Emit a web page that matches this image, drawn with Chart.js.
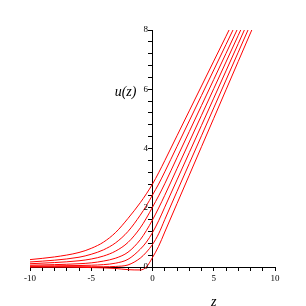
<!DOCTYPE html>
<html>
<head>
<meta charset="utf-8">
<script src="https://cdn.jsdelivr.net/npm/chart.js@4"></script>
<style>html,body{margin:0;padding:0;background:#fff}</style>
</head>
<body>
<canvas id="chart" width="306" height="306"></canvas>
<script>
// z values shared by all curves
const zValues = [-10, -8, -6, -5, -4, -3, -2, -1, -0.5, 0, 0.5, 1, 2, 3, 4, 5, 6, 7, 8, 9]

// u(z) for each curve (top curve first)
const curve1 = [0.25, 0.34, 0.49, 0.63, 0.84, 1.17, 1.64, 2.17, 2.47, 2.8, 3.18, 3.59, 4.43, 5.27, 6.11, 6.95, 7.79, 8.63]
const curve2 = [0.17, 0.23, 0.33, 0.43, 0.58, 0.82, 1.2, 1.75, 2.07, 2.43, 2.8, 3.21, 4.07, 4.93, 5.79, 6.65, 7.51, 8.37]
const curve3 = [0.11, 0.15, 0.21, 0.27, 0.37, 0.54, 0.83, 1.32, 1.65, 2.02, 2.4, 2.81, 3.69, 4.57, 5.45, 6.33, 7.21, 8.09]
const curve4 = [0.06, 0.08, 0.11, 0.14, 0.2, 0.3, 0.5, 0.92, 1.23, 1.59, 1.99, 2.42, 3.32, 4.22, 5.12, 6.02, 6.92, 7.82, 8.72]
const curve5 = [0.03, 0.04, 0.05, 0.06, 0.08, 0.13, 0.26, 0.6, 0.84, 1.16, 1.56, 2.02, 2.94, 3.86, 4.78, 5.7, 6.62, 7.54, 8.46]
const curve6 = [0.01, 0.01, 0.01, 0.01, 0.01, 0.02, 0.07, 0.3, 0.5, 0.76, 1.12, 1.6, 2.55, 3.49, 4.43, 5.37, 6.31, 7.25, 8.19]
const curve7 = [0, 0, -0.01, -0.02, -0.03, -0.05, -0.09, -0.1, 0, 0.32, 0.7, 1.18, 2.14, 3.1, 4.06, 5.02, 5.98, 6.94, 7.9, 8.86]

const curves = [curve1, curve2, curve3, curve4, curve5, curve6, curve7]

const xTickLabels = [-10, -5, 0, 5, 10]
const yTickLabels = [0, 2, 4, 6, 8]

const serif = '"Liberation Serif", "DejaVu Serif", serif'

//y tick labels sit just left of the ticks, plus the axis titles u(z) and z
let axisText = {
    id: 'axisText',
    afterDraw(chart) {
        const ctx = chart.ctx
        const x = chart.scales.x
        const y = chart.scales.y
        const axisX = x.getPixelForValue(0)
        ctx.save()
        ctx.fillStyle = '#000'
        ctx.font = '9px ' + serif
        ctx.textAlign = 'right'
        ctx.textBaseline = 'middle'
        yTickLabels.forEach(v => ctx.fillText(String(v), axisX - 4.5, y.getPixelForValue(v)))
        ctx.font = 'italic 14px ' + serif
        ctx.textAlign = 'center'
        ctx.fillText('u(z)', x.getPixelForValue(-2.2), y.getPixelForValue(5.88))
        ctx.fillText('z', x.getPixelForValue(5), chart.chartArea.bottom + 35)
        ctx.restore()
    }
}

let datasets = curves.map(u => ({
    data: u.map((v, i) => ({x: zValues[i], y: v})),
    borderColor: '#ff0000',
    borderWidth: 1,
    pointRadius: 0,
    fill: false,
    showLine: true,
    cubicInterpolationMode: 'monotone',
    clip: {left: 0, top: 0, right: 0, bottom: 6}
}))

let chart = new Chart(document.getElementById('chart').getContext('2d'), {
    type: 'scatter',
    data: {datasets: datasets},
    options: {
        responsive: false,
        animation: false,
        events: [],
        layout: {padding: {left: 30, right: 31, top: 30, bottom: 0}},
        plugins: {legend: {display: false}, tooltip: {enabled: false}},
        scales: {
            x: {
                type: 'linear',
                position: 'bottom',
                min: -10,
                max: 10,
                afterFit: s => { s.height = 39 },
                border: {display: true, color: '#000', width: 1},
                grid: {drawOnChartArea: false, drawTicks: true, tickLength: 4, color: '#000'},
                ticks: {
                    stepSize: 1,
                    autoSkip: false,
                    maxRotation: 0,
                    padding: 2,
                    color: '#000',
                    font: {family: serif, size: 9},
                    callback: v => xTickLabels.includes(v) ? String(v) : ''
                }
            },
            y: {
                type: 'linear',
                position: {x: 0},
                min: 0,
                max: 8,
                afterFit: s => { s.width = 0 },
                border: {display: true, color: '#000', width: 1},
                grid: {drawOnChartArea: false, drawTicks: true, tickLength: 4, color: '#000'},
                ticks: {
                    stepSize: 0.4,
                    autoSkip: false,
                    color: '#000',
                    font: {family: serif, size: 9},
                    callback: () => ''
                }
            }
        }
    },
    plugins: [axisText]
})
</script>
</body>
</html>
